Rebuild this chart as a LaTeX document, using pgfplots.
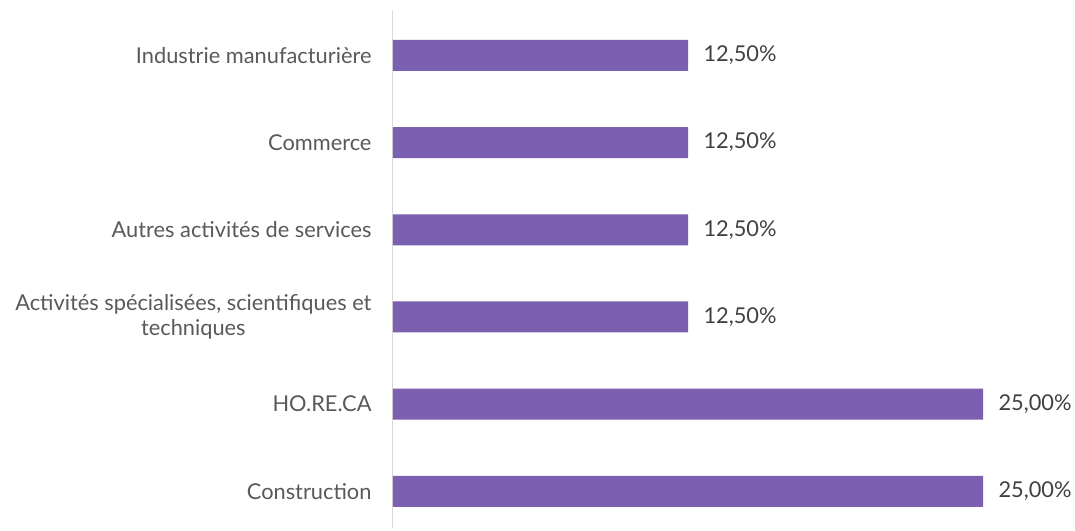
\documentclass[border=0pt]{standalone}
\usepackage{pgfplots}
\pgfplotsset{compat=1.18}
\usepackage{fontspec}
\setmainfont{Lato}
\definecolor{barpurple}{RGB}{123,95,176}
\definecolor{labgray}{RGB}{89,89,89}
\definecolor{valgray}{RGB}{64,64,64}
\definecolor{axgray}{RGB}{217,217,217}
\begin{document}
\begin{tikzpicture}
\path[use as bounding box] (-393pt,-2pt) rectangle (682pt,528pt);
\begin{axis}[
  at={(0pt,0pt)}, anchor=south west,
  scale only axis,
  width=649pt, height=518pt,
  xbar, bar width=31pt,
  xmin=0, xmax=27.5,
  ymin=-0.42, ymax=5.52,
  axis x line=none,
  axis y line=left,
  y axis line style={draw=axgray, line width=1pt, -},
  ytick={0,1,2,3,4,5},
  yticklabels={Construction, HO.RE.CA, {Activités spécialisées, scientifiques et\\techniques}, Autres activités de services, Commerce, Industrie manufacturière},
  yticklabel style={align=center, font=\fontsize{21.8}{25}\selectfont, text=labgray},
  major tick length=0pt,
  tick style={draw=none},
  y tick label style={xshift=-18pt},
  /pgf/number format/assume math mode=true,
  nodes near coords={\pgfmathprintnumber[fixed,fixed zerofill,precision=2,use comma,assume math mode=true]{\pgfplotspointmeta}\%},
  nodes near coords style={font=\fontsize{21.8}{25}\selectfont, text=valgray, anchor=west, xshift=12pt},
  point meta=explicit,
  clip=false,
]
\addplot[fill=barpurple, draw=none] coordinates {
  (25,0) [25]
  (25,1) [25]
  (12.5,2) [12.5]
  (12.5,3) [12.5]
  (12.5,4) [12.5]
  (12.5,5) [12.5]
};
\end{axis}
\end{tikzpicture}
\end{document}
